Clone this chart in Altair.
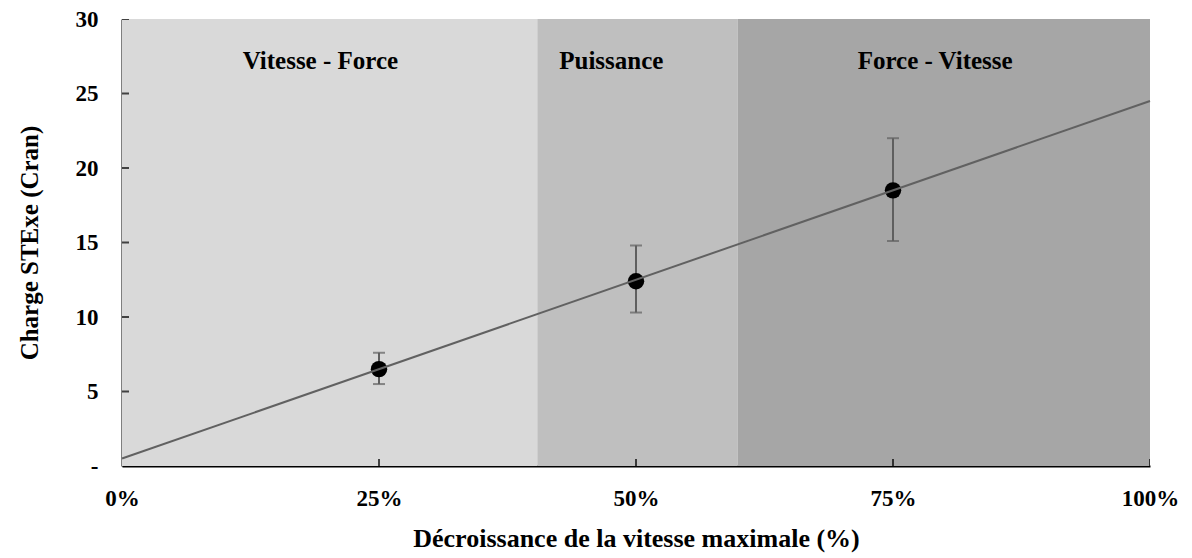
import altair as alt
import pandas as pd

# Data
zone_names = ["Vitesse - Force", "Puissance", "Force - Vitesse"]
zone_start = [0, 40.4, 59.9]
zone_end = [40.4, 59.9, 100]
zone_colors = ["#d9d9d9", "#bfbfbf", "#a6a6a6"]
label_x = [19.3, 47.6, 79.1]
label_y = [27.2, 27.2, 27.2]

pt_x = [25, 50, 75]
pt_y = [6.5, 12.4, 18.5]
err_low = [5.5, 10.3, 15.1]
err_high = [7.6, 14.8, 22.0]

trend_x = [0, 100]
trend_y = [0.5, 24.5]

x_ticks = [0, 25, 50, 75, 100]
y_ticks = [0, 5, 10, 15, 20, 25, 30]

FONT = "Liberation Serif"

zones = pd.DataFrame({"name": zone_names, "x0": zone_start, "x1": zone_end,
                      "color": zone_colors, "lx": label_x, "ly": label_y})
pts = pd.DataFrame({"x": pt_x, "y": pt_y, "lo": err_low, "hi": err_high})
trend = pd.DataFrame({"x": trend_x, "y": trend_y})
xt = pd.DataFrame({"x": x_ticks[1:], "y": [0] * (len(x_ticks) - 1)})
yt = pd.DataFrame({"y": y_ticks[1:], "x": [0] * (len(y_ticks) - 1)})

xscale = alt.Scale(domain=[0, 100], nice=False, zero=False)
yscale = alt.Scale(domain=[0, 30], nice=False)

xaxis = alt.Axis(values=x_ticks, labelExpr="datum.value + '%'", title="Décroissance de la vitesse maximale (%)",
                 grid=False, ticks=False, domainColor="black", domainWidth=2, labelFlush=False,
                 labelFont=FONT, labelFontSize=23, labelFontWeight="bold", labelColor="black",
                 labelPadding=21, titleFont=FONT, titleFontSize=26, titleFontWeight="bold",
                 titleColor="black", titlePadding=15)
yaxis = alt.Axis(values=y_ticks, labelExpr="datum.value == 0 ? '-' : datum.label", title="Charge STExe (Cran)",
                 grid=False, ticks=False, domainColor="black", domainWidth=2, labelFlush=False,
                 labelFont=FONT, labelFontSize=23, labelFontWeight="bold", labelColor="black",
                 labelPadding=24, titleFont=FONT, titleFontSize=25, titleFontWeight="bold",
                 titleColor="black", titlePadding=33)

bands = alt.Chart(zones).mark_rect().encode(
    x=alt.X("x0:Q", scale=xscale, axis=xaxis),
    x2="x1:Q",
    y=alt.datum(0, scale=yscale, axis=yaxis),
    y2=alt.datum(30),
    color=alt.Color("color:N", scale=None),
)

band_text = alt.Chart(zones).mark_text(font=FONT, fontSize=25, fontWeight="bold", color="black").encode(
    x=alt.X("lx:Q", scale=xscale), y=alt.Y("ly:Q", scale=yscale), text="name:N"
)

line = alt.Chart(trend).mark_line(color="#616161", strokeWidth=2).encode(
    x=alt.X("x:Q", scale=xscale), y=alt.Y("y:Q", scale=yscale)
)

err = alt.Chart(pts).mark_rule(color="#5f5f5f", strokeWidth=2).encode(
    x=alt.X("x:Q", scale=xscale), y=alt.Y("lo:Q", scale=yscale), y2="hi:Q"
)
cap_lo = alt.Chart(pts).mark_tick(color="#5f5f5f", thickness=2, size=12, orient="horizontal").encode(
    x=alt.X("x:Q", scale=xscale), y=alt.Y("lo:Q", scale=yscale)
)
cap_hi = alt.Chart(pts).mark_tick(color="#5f5f5f", thickness=2, size=12, orient="horizontal").encode(
    x=alt.X("x:Q", scale=xscale), y=alt.Y("hi:Q", scale=yscale)
)

dots = alt.Chart(pts).mark_circle(color="black", size=270, opacity=1).encode(
    x=alt.X("x:Q", scale=xscale), y=alt.Y("y:Q", scale=yscale)
)

xticks = alt.Chart(xt).mark_tick(color="black", thickness=2, size=14, orient="vertical", clip=True).encode(
    x=alt.X("x:Q", scale=xscale), y=alt.Y("y:Q", scale=yscale)
)
yticks = alt.Chart(yt).mark_tick(color="black", thickness=2, size=14, orient="horizontal", clip=True).encode(
    x=alt.X("x:Q", scale=xscale), y=alt.Y("y:Q", scale=yscale)
)

chart = alt.layer(bands, band_text, err, cap_lo, cap_hi, dots, line, xticks, yticks).properties(
    width=1028, height=447,
    autosize=alt.AutoSizeParams(type="none"),
    padding={"left": 122, "top": 19, "right": 42, "bottom": 92},
    background="white",
).configure_view(stroke=None)

chart.save("out.html", embed_options={"renderer": "svg", "actions": False})
